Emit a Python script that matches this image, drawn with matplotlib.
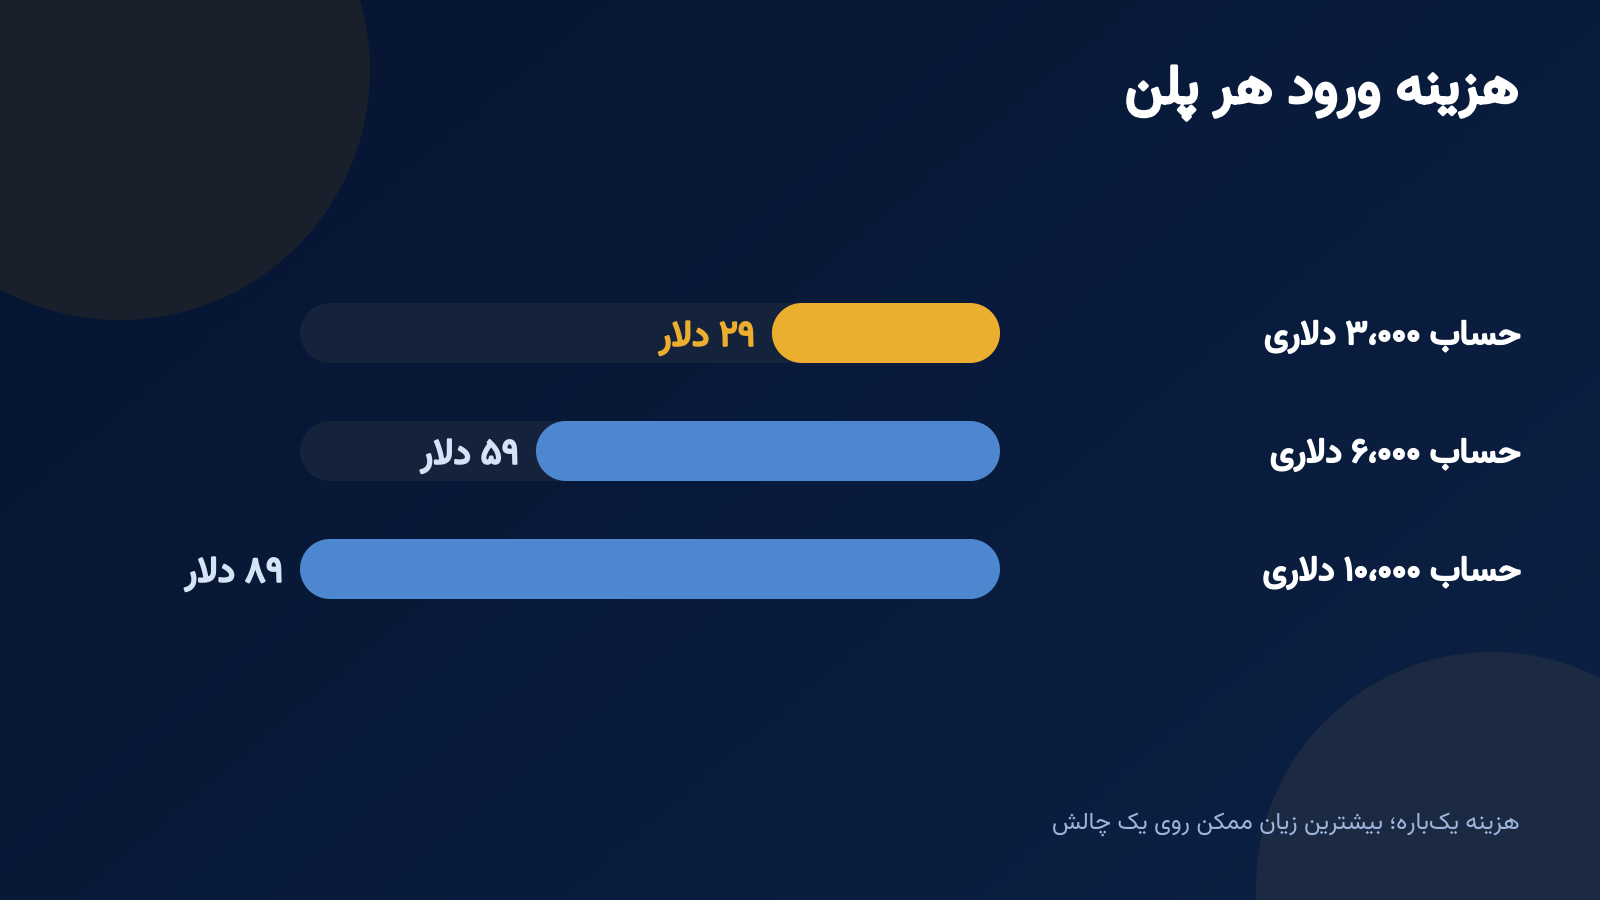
import re
import numpy as np
import matplotlib
matplotlib.use("Agg")
import matplotlib.pyplot as plt
from matplotlib import font_manager as fm
from matplotlib.ft2font import FT2Font
from matplotlib.patches import Polygon, Circle
from matplotlib.colors import LinearSegmentedColormap
import matplotlib.transforms as mtransforms
import matplotlib.patheffects as pe

# ---------------- data ----------------
title = "هزینه ورود هر پلن"
categories = ["حساب ۳،۰۰۰ دلاری", "حساب ۶،۰۰۰ دلاری", "حساب ۱۰،۰۰۰ دلاری"]
values = [29, 59, 89]
value_labels = ["۲۹ دلار", "۵۹ دلار", "۸۹ دلار"]
highlight = [True, False, False]
footnote = "هزینه یک\u200cباره؛ بیشترین زیان ممکن روی یک چالش"

# ---------------- minimal Persian shaping ----------------
_J = {
    '\u0627': (0xFE8D, 0xFE8E),
    '\u0628': (0xFE8F, 0xFE90, 0xFE91, 0xFE92),
    '\u067E': (0xFB56, 0xFB57, 0xFB58, 0xFB59),
    '\u062A': (0xFE95, 0xFE96, 0xFE97, 0xFE98),
    '\u0686': (0xFB7A, 0xFB7B, 0xFB7C, 0xFB7D),
    '\u062D': (0xFEA1, 0xFEA2, 0xFEA3, 0xFEA4),
    '\u062F': (0xFEA9, 0xFEAA),
    '\u0631': (0xFEAD, 0xFEAE),
    '\u0632': (0xFEAF, 0xFEB0),
    '\u0633': (0xFEB1, 0xFEB2, 0xFEB3, 0xFEB4),
    '\u0634': (0xFEB5, 0xFEB6, 0xFEB7, 0xFEB8),
    '\u06A9': (0xFB8E, 0xFB8F, 0xFB90, 0xFB91),
    '\u0644': (0xFEDD, 0xFEDE, 0xFEDF, 0xFEE0),
    '\u0645': (0xFEE1, 0xFEE2, 0xFEE3, 0xFEE4),
    '\u0646': (0xFEE5, 0xFEE6, 0xFEE7, 0xFEE8),
    '\u0647': (0xFEE9, 0xFEEA, 0xFEEB, 0xFEEC),
    '\u0648': (0xFEED, 0xFEEE),
    '\u06CC': (0xFBFC, 0xFBFD, 0xFBFE, 0xFBFF),
}


def _dual(c):
    return c in _J and len(_J[c]) == 4


def _shape(s):
    out = []
    i, n = 0, len(s)
    while i < n:
        c = s[i]
        if c not in _J:
            if c != '\u200c':
                out.append(c)
            i += 1
            continue
        prev = s[i - 1] if i > 0 else ''
        jp = _dual(prev)
        if c == '\u0644' and i + 1 < n and s[i + 1] == '\u0627':
            out.append(chr(0xFEFC if jp else 0xFEFB))
            i += 2
            continue
        nxt = s[i + 1] if i + 1 < n else ''
        jn = _dual(c) and nxt in _J
        f = _J[c]
        if jp and jn:
            g = f[3]
        elif jp:
            g = f[1]
        elif jn:
            g = f[2]
        else:
            g = f[0]
        out.append(chr(g))
        i += 1
    return ''.join(out)


def fa(s):
    s = _shape(s)
    tokens = re.findall(r'[\u06F0-\u06F9](?:\u060C?[\u06F0-\u06F9])*|.', s, re.S)
    return ''.join(reversed(tokens))


NEED = [0xFEE9, 0xFBFC, 0x06F3, 0xFEFB, 0xFB56]


def _covers(path):
    try:
        cm = FT2Font(path).get_charmap()
        return all(c in cm for c in NEED)
    except Exception:
        return False


def pick_font():
    prefs = ['Vazirmatn', 'Vazir', 'Noto Sans Arabic', 'Noto Naskh Arabic',
             'Noto Sans Arabic UI', 'DejaVu Sans']
    for name in prefs:
        for f in fm.fontManager.ttflist:
            if f.name == name and _covers(f.fname):
                bold = None
                for g in fm.fontManager.ttflist:
                    if g.name == name and g.style == 'normal' and \
                            (g.weight == 'bold' or (isinstance(g.weight, int) and g.weight >= 600)) \
                            and _covers(g.fname):
                        bold = g.fname
                return name, bold
    return 'DejaVu Sans', None


FONT, BOLD_FILE = pick_font()
plt.rcParams['font.family'] = [FONT, 'DejaVu Sans']


def bold_kw(color, stroke):
    """Real bold face if installed, otherwise a faux-bold outline stroke."""
    if BOLD_FILE is not None:
        return dict(fontproperties=fm.FontProperties(fname=BOLD_FILE))
    return dict(path_effects=[pe.withStroke(linewidth=stroke, foreground=color)])


# ---------------- colours ----------------
BG0, BG1 = "#061430", "#0c2145"
TRACK = "#14223c"
BLUE = "#4d87cf"
GOLD = "#ecae2e"
LABEL_LIGHT = "#d6e2f5"
FOOT = "#9db5dc"

W, H = 1600, 900
fig = plt.figure(figsize=(16, 9), dpi=100)

# background with gradient and decorative circles
bg = fig.add_axes([0, 0, 1, 1])
bg.set_xlim(0, W)
bg.set_ylim(H, 0)
bg.axis('off')
gx, gy = np.meshgrid(np.linspace(0, 1, 320), np.linspace(0, 1, 180))
grad = (gx * 0.6 + gy * 0.4)
cmap = LinearSegmentedColormap.from_list("bg", [BG0, BG1])
bg.imshow(grad, cmap=cmap, extent=[0, W, H, 0], aspect='auto', zorder=0)
bg.add_patch(Circle((120, 70), 250, color="#1a202b", zorder=1, lw=0))
bg.add_patch(Circle((1492, 888), 236, color="#1c2942", zorder=1, lw=0))

# ---------------- bars ----------------
x_left, x_right = 300, 1000
row_gap = 118
y_first = 333
n = len(values)
ax_top = y_first - row_gap / 2
ax_h = row_gap * n
ax = fig.add_axes([x_left / W, 1 - (ax_top + ax_h) / H, (x_right - x_left) / W, ax_h / H])
ax.set_facecolor('none')
vmax = max(values)
ax.set_xlim(vmax, 0)
ax.set_ylim(n - 0.5, -0.5)
ax.axis('off')

bar_px = 60
kx = vmax / (x_right - x_left)      # data units per pixel (x)
ky = n / ax_h                        # data units per pixel (y)
rx = bar_px / 2 * kx                 # semicircle radius in x data units
ry = bar_px / 2 * ky                 # semicircle radius in y data units


def capsule(x0, x1, yc, color, z):
    t = np.linspace(-np.pi / 2, np.pi / 2, 40)
    a = x0 + rx
    b = max(x1 - rx, a)
    right = np.column_stack([a - rx * np.cos(t), yc + ry * np.sin(t)])
    left = np.column_stack([b + rx * np.cos(t[::-1]), yc + ry * np.sin(t[::-1])])
    ax.add_patch(Polygon(np.vstack([right, left]), closed=True, fc=color,
                         ec='none', lw=0, zorder=z))


for i, v in enumerate(values):
    capsule(0, vmax, i, TRACK, 2)
    col = GOLD if highlight[i] else LABEL_LIGHT
    capsule(0, v, i, GOLD if highlight[i] else BLUE, 3)
    ax.annotate(fa(value_labels[i]), xy=(v, i), xytext=(-12, -3),
                textcoords='offset points', ha='right', va='center',
                fontsize=26, color=col, zorder=4, **bold_kw(col, 1.6))

lab_tr = mtransforms.blended_transform_factory(fig.transFigure, ax.transData)
for i, c in enumerate(categories):
    ax.annotate(fa(c), xy=(1520 / W, i), xycoords=lab_tr, xytext=(0, -2.5),
                textcoords='offset points', ha='right', va='center',
                fontsize=24.7, color='white', zorder=4, **bold_kw('white', 1.6))

fig.text(1519 / W, 1 - 93 / H, fa(title), ha='right', va='center',
         fontsize=39.4, color='white', **bold_kw('white', 2.4))
fig.text(1520 / W, 1 - 825 / H, fa(footnote), ha='right', va='center',
         fontsize=17.35, color=FOOT)

fig.savefig("out.png", dpi=100, facecolor=BG0)
